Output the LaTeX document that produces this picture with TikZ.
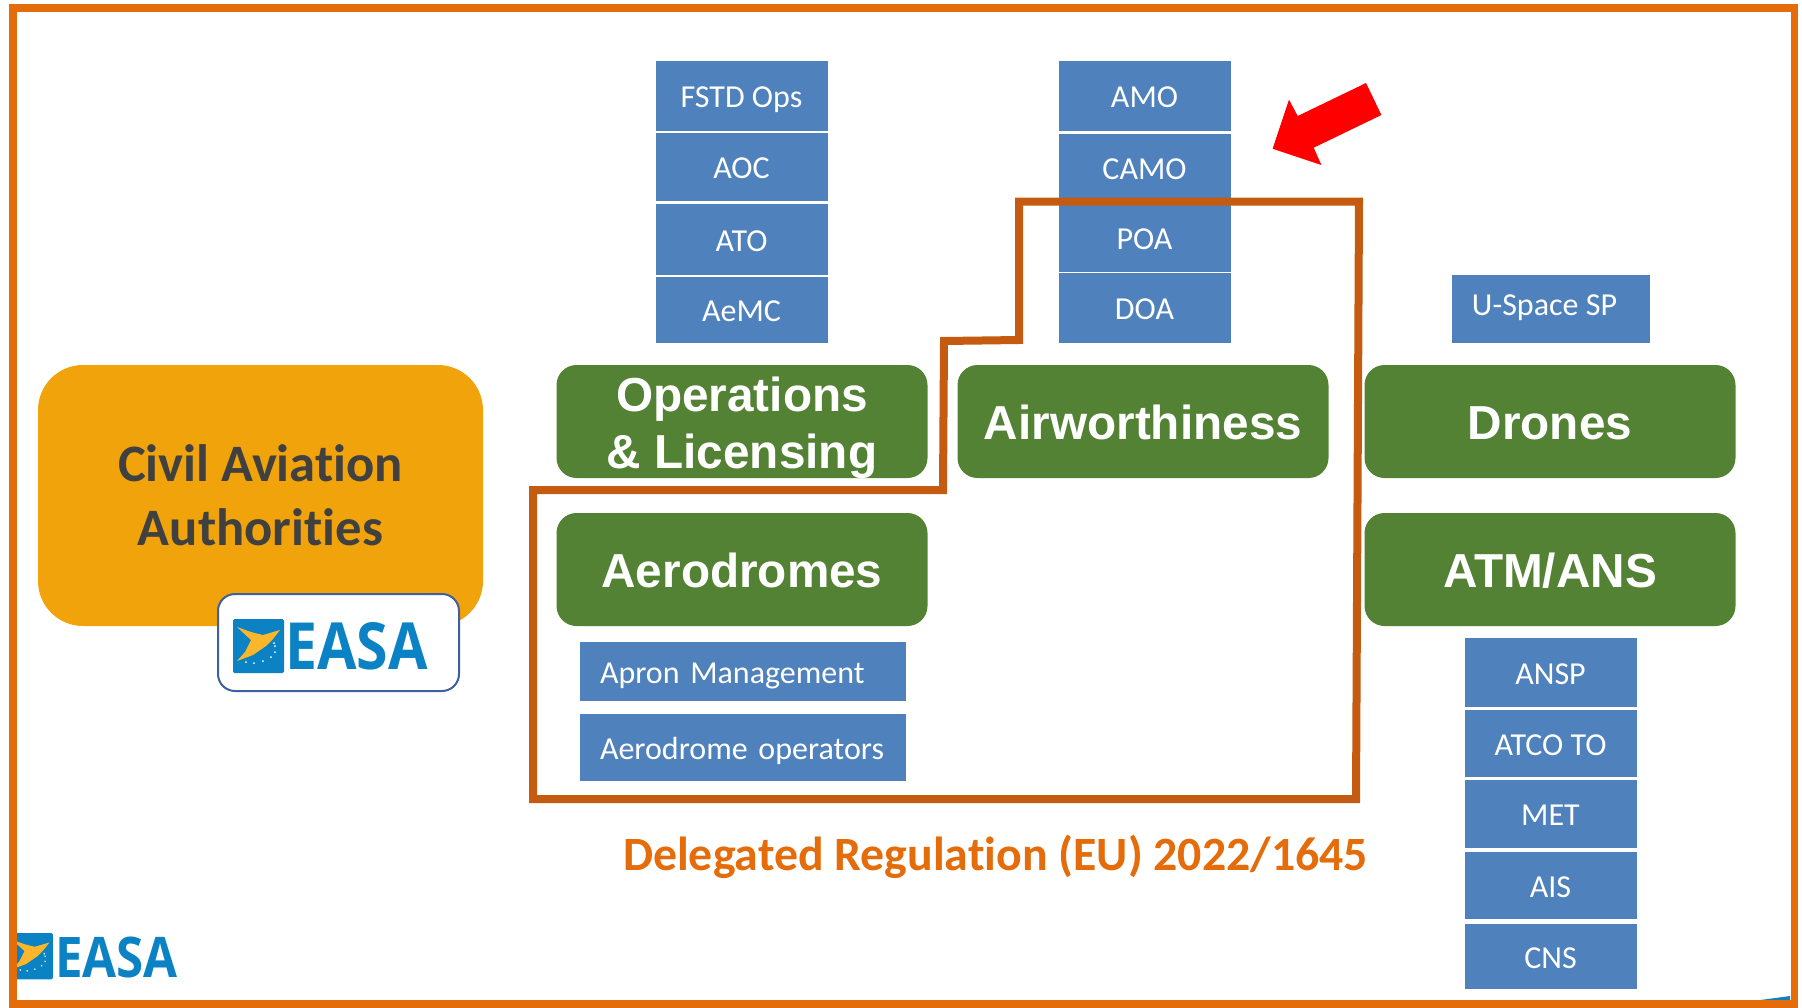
\documentclass[tikz,border=0pt]{standalone}
\usepackage{fontspec}
\setmainfont{Carlito}[Ligatures=NoCommon]
\newfontfamily\arialfont{Liberation Sans}
\newfontfamily\logofont{Open Sans}[FakeStretch=0.88]
\definecolor{framecol}{HTML}{E46C0A}
\definecolor{regioncol}{HTML}{C55A11}
\definecolor{bluebox}{HTML}{4F81BD}
\definecolor{greenbox}{HTML}{548235}
\definecolor{amberbox}{HTML}{F0A30A}
\definecolor{logoblue}{HTML}{0B82C4}
\definecolor{logoyellow}{HTML}{FBB62C}
\definecolor{edgeblue}{HTML}{3F5F9F}
\definecolor{caatext}{HTML}{404040}
\tikzset{
  bluecell/.style={fill=bluebox,draw=none,inner sep=0pt,text=white,align=center,
    font=\fontsize{32}{32}\selectfont,text height=23pt,text depth=0pt},
  colA/.style={bluecell,minimum width=172pt},
  colW/.style={bluecell,minimum width=326pt},
  greencell/.style={fill=greenbox,draw=none,rounded corners=20pt,inner sep=0pt,
    minimum width=371pt,minimum height=113pt,text=white,align=center,
    font=\arialfont\bfseries\fontsize{47.7}{57}\selectfont},
  greenone/.style={greencell,text height=36pt,text depth=0pt},
  logosq/.pic={
    \fill[logoblue,rounded corners=1.5pt] (0,0) rectangle (51,54);
    \fill[logoyellow] (4,8) -- (18,13) -- (30,16) -- (47,11) -- (40,20) -- (33,27) -- (20,36) -- (4,42)
       -- (12,33) -- (18,21) -- cycle;
    \foreach \dx/\dy in {13/43,21/44,30/42,38/38,42/33,42/27,41/24}{\fill[white] (\dx,\dy) circle (1);}
  }
}
\begin{document}
\begin{tikzpicture}[x=1pt,y=-1pt]
\useasboundingbox (0,0) rectangle (1802,1007);
% amber authority block
\node[fill=amberbox,rounded corners=45pt,minimum width=445pt,minimum height=261pt,inner sep=0pt,
  text=caatext,align=center,font=\bfseries\fontsize{52.6}{64}\selectfont] (caa) at (260.5,495.5)
  {Civil Aviation\\Authorities};
\node[fill=white,draw=edgeblue,line width=2pt,rounded corners=17pt,minimum width=241pt,minimum height=97pt,inner sep=0pt] (logobox) at (338.5,642.5) {};
\pic at (233,619) {logosq};
\node[text=logoblue,font=\logofont\bfseries\fontsize{65}{65}\selectfont,inner sep=0pt,anchor=base west] (logotext) at (285,669) {EASA};
% bottom logo
\pic[scale=0.86] at (9,933) {logosq};
\node[text=logoblue,font=\logofont\bfseries\fontsize{56}{56}\selectfont,inner sep=0pt,anchor=base west] (logotextb) at (55,977) {EASA};
% blue cells
\node[colA,minimum height=70pt] (fstd) at (741.5,96) {FSTD Ops};
\node[colA,minimum height=68pt] (aoc) at (741.5,167) {AOC};
\node[colA,minimum height=71pt] (ato) at (741.5,239.5) {ATO};
\node[colA,minimum height=66pt] (aemc) at (741.5,310) {AeMC};
\node[colA,minimum height=70pt] (amo) at (1144.5,96) {AMO};
\node[colA,minimum height=68pt] (camo) at (1144.5,168) {CAMO};
\node[colA,minimum height=67pt] (poa) at (1144.5,238) {POA};
\node[colA,minimum height=70pt] (doa) at (1144.5,308) {DOA};
\node[bluecell,minimum width=198pt,minimum height=68pt,text height=12pt] (uspace) at (1550.5,309) {\hspace*{-12pt}U-Space SP};
\node[colW,minimum height=59pt,align=left,text width=285pt] (apron) at (742.5,671.5) {Apron Management};
\node[colW,minimum height=67pt,align=left,text width=285pt] (aerop) at (742.5,747.5) {Aerodrome operators};
\node[colA,minimum height=69pt] (ansp) at (1550.5,672.5) {ANSP};
\node[colA,minimum height=67pt] (atco) at (1550.5,743.5) {ATCO TO};
\node[colA,minimum height=68pt] (met) at (1550.5,814) {MET};
\node[colA,minimum height=67pt] (ais) at (1550.5,885.5) {AIS};
\node[colA,minimum height=65pt] (cns) at (1550.5,956.5) {CNS};
% green blocks
\node[greencell,inner ysep=-3pt] (ops) at (742,421.5) {\rule{0pt}{48pt}Operations\\\&\ Licensing};
\node[greenone] (air) at (1143,421.5) {Airworthiness};
\node[greenone] (dro) at (1550,421.5) {Drones};
\node[greenone] (aero) at (742,569.5) {Aerodromes};
\node[greenone] (atm) at (1550,569.5) {ATM/ANS};
% delegated regulation region
\draw[regioncol,line width=8pt,line join=miter] (1019,201.5) -- (1359,201.5) -- (1356,799) -- (533,799) -- (533,490) -- (943,490) -- (944,341) -- (1019,340) -- cycle;
\node[text=framecol,font=\bfseries\fontsize{47.8}{47.8}\selectfont,inner sep=0pt] (reg) at (995.5,857) {Delegated Regulation (EU) 2022/1645};
% red arrow
\fill[red] (1366,83) -- (1381.4,115) -- (1313.7,147.7) -- (1321.4,165) -- (1272.6,148.7) -- (1289,99.7) -- (1297.7,116) -- cycle;
% corner sliver and frame
\fill[logoblue] (1753,1001) -- (1790,996) -- (1790,1002) -- cycle;
\draw[framecol,line width=7.5pt,line join=miter] (13,8) rectangle (1794.5,1004);
\end{tikzpicture}
\end{document}
